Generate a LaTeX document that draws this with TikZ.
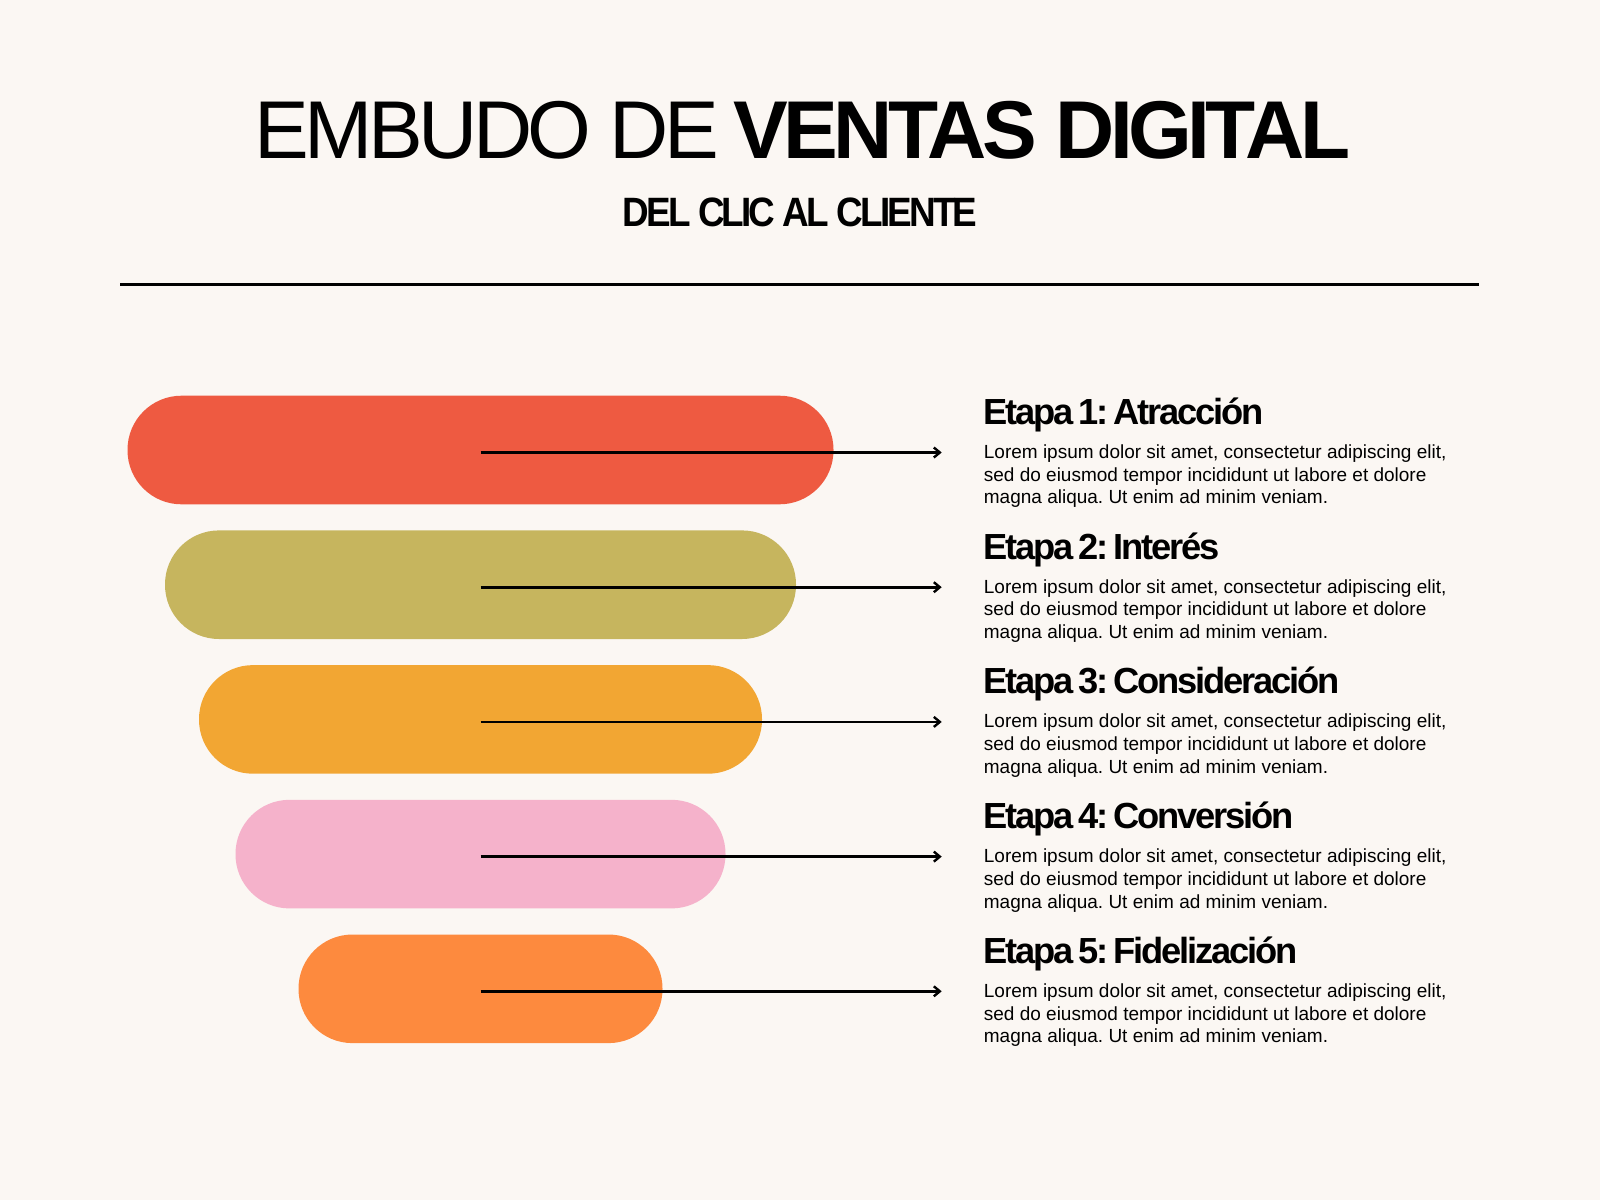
\documentclass[tikz,border=0pt]{standalone}
\usepackage{fontspec}
\setmainfont{Liberation Sans}
\newfontfamily\titlefont[LetterSpace=-5.5]{Liberation Sans}
\newfontfamily\subfont[LetterSpace=-7,FakeStretch=0.9]{Liberation Sans}
\newfontfamily\headfont[LetterSpace=-6,WordSpace=0.6]{Liberation Sans}
\usepackage{xcolor}
\usetikzlibrary{arrows.meta}
\definecolor{paper}{HTML}{FBF7F3}
\definecolor{etapaA}{HTML}{EE5A41}
\definecolor{etapaB}{HTML}{C6B55E}
\definecolor{etapaC}{HTML}{F2A633}
\definecolor{etapaD}{HTML}{F5B2CB}
\definecolor{etapaE}{HTML}{FD8A3E}
\newcommand{\lorem}{Lorem ipsum dolor sit amet, consectetur adipiscing elit,\\
sed do eiusmod tempor incididunt ut labore et dolore\\
magna aliqua. Ut enim ad minim veniam.}
\frenchspacing

\begin{document}
\begin{tikzpicture}[x=1pt,y=-1pt,
      bar/.style={draw=none,rounded corners=54pt,minimum height=108.6pt,inner sep=0pt},
      arr/.style={line width=2.6pt,-{Straight Barb[length=6pt,width=10pt,line width=2.4pt]}},
      head/.style={anchor=base west,inner sep=0pt,font=\headfont\bfseries\fontsize{36.3}{40}\selectfont},
      body/.style={anchor=base west,inner sep=0pt,align=left,font=\fontsize{19}{22.7}\selectfont}]

      \fill[paper] (0,0) rectangle (1600,1200);
      \useasboundingbox (0,0) rectangle (1600,1200);

      % title
      \node[inner sep=0pt,anchor=base,font=\titlefont\fontsize{82}{90}\selectfont] (title) at (800,158)
        {EMBUDO DE \textbf{VENTAS DIGITAL}};
      \node[inner sep=0pt,anchor=base,font=\subfont\bfseries\fontsize{41}{45}\selectfont] (subtitle) at (800,226.5)
        {DEL CLIC AL CLIENTE};
      \coordinate (ruleL) at (120.4,284.7);
      \coordinate (ruleR) at (1478.6,284.7);
      \draw[line width=3pt] (ruleL) -- (ruleR);

      % funnel bars
      \node[bar,fill=etapaA,minimum width=706pt] (b1) at (480.5,450) {};
      \node[bar,fill=etapaB,minimum width=631pt] (b2) at (480.5,584.7) {};
      \node[bar,fill=etapaC,minimum width=563pt] (b3) at (480.5,719.4) {};
      \node[bar,fill=etapaD,minimum width=490pt] (b4) at (480.5,854.1) {};
      \node[bar,fill=etapaE,minimum width=364pt] (b5) at (480.5,988.8) {};

      % arrow ends
      \coordinate (e1) at (941.7,452.5);
      \coordinate (e2) at (941.7,587.2);
      \coordinate (e3) at (941.7,721.9);
      \coordinate (e4) at (941.7,856.6);
      \coordinate (e5) at (941.7,991.3);
      \draw[arr] ([yshift=-2.5pt]b1.center) -- (e1);
      \draw[arr] ([yshift=-2.5pt]b2.center) -- (e2);
      \draw[arr] ([yshift=-2.5pt]b3.center) -- (e3);
      \draw[arr] ([yshift=-2.5pt]b4.center) -- (e4);
      \draw[arr] ([yshift=-2.5pt]b5.center) -- (e5);

      % stages (body anchored on its last line)
      \node[head] (h1) at (983.7,424.5) {Etapa 1: Atracción};
      \node[body] (t1) at (983.7,503.9) {\lorem};
      \node[head] (h2) at (983.7,559.2) {Etapa 2: Interés};
      \node[body] (t2) at (983.7,638.6) {\lorem};
      \node[head] (h3) at (983.7,693.9) {Etapa 3: Consideración};
      \node[body] (t3) at (983.7,773.3) {\lorem};
      \node[head] (h4) at (983.7,828.6) {Etapa 4: Conversión};
      \node[body] (t4) at (983.7,908.0) {\lorem};
      \node[head] (h5) at (983.7,963.3) {Etapa 5: Fidelización};
      \node[body] (t5) at (983.7,1042.7) {\lorem};
\end{tikzpicture}
\end{document}
